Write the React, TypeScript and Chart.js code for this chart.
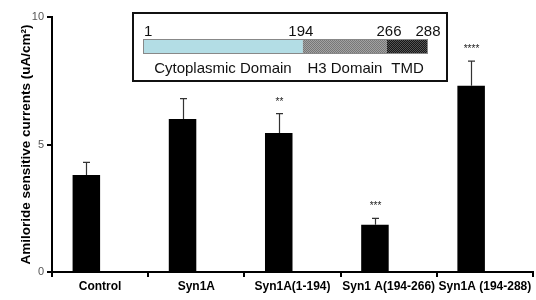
import React, { useEffect, useRef } from "react";
import { Chart, registerables } from "chart.js";

Chart.register(...registerables);

const categories = ["Control", "Syn1A", "Syn1A(1-194)", "Syn1 A(194-266)", "Syn1A (194-288)"];
const means = [3.8, 6.0, 5.45, 1.85, 7.3];
const errors = [0.5, 0.8, 0.76, 0.25, 0.97];
const significance = ["", "", "**", "***", "****"];
const yTicks = [0, 5, 10];
const domainBounds = ["1", "194", "266", "288"];
const domainNames = ["Cytoplasmic Domain", "H3 Domain", "TMD"];

const FONT = "'Liberation Sans', Arial, sans-serif";

function makePattern(ctx: CanvasRenderingContext2D, base: string, dot: string, step: number) {
  const c = document.createElement("canvas");
  c.width = step;
  c.height = step;
  const g = c.getContext("2d")!;
  g.fillStyle = base;
  g.fillRect(0, 0, step, step);
  g.fillStyle = dot;
  g.fillRect(0, 0, 1, 1);
  if (step >= 2) g.fillRect(Math.floor(step / 2), Math.floor(step / 2), 1, 1);
  return ctx.createPattern(c, "repeat")!;
}

const errorBarPlugin = {
  id: "errorBars",
  afterDatasetsDraw(chart: any) {
    const ctx = chart.ctx as CanvasRenderingContext2D;
    const meta = chart.getDatasetMeta(0);
    const y = chart.scales.y;
    ctx.save();
    meta.data.forEach((el: any, i: number) => {
      const top = y.getPixelForValue(means[i] + errors[i]);
      const x = Math.round(el.x) + 0.5;
      ctx.strokeStyle = "#333";
      ctx.lineWidth = 1.2;
      ctx.beginPath();
      ctx.moveTo(x, el.y);
      ctx.lineTo(x, top);
      ctx.moveTo(x - 3.5, top);
      ctx.lineTo(x + 3.5, top);
      ctx.stroke();
      if (significance[i]) {
        ctx.fillStyle = "#222";
        ctx.font = `10px ${FONT}`;
        ctx.textAlign = "center";
        ctx.textBaseline = "alphabetic";
        ctx.fillText(significance[i], x, top - 9);
      }
    });
    ctx.restore();
  },
};

const insetPlugin = {
  id: "inset",
  afterDraw(chart: any) {
    const ctx = chart.ctx as CanvasRenderingContext2D;
    const box = { l: 133, t: 13, r: 447, b: 81 };
    const bar = { l: 143, r: 428, t: 39, b: 54 };
    const fr = [0, 0.561, 0.856, 1];
    const xs = fr.map((f) => bar.l + f * (bar.r - bar.l));
    ctx.save();
    ctx.fillStyle = "#fff";
    ctx.fillRect(box.l, box.t, box.r - box.l, box.b - box.t);
    ctx.strokeStyle = "#111";
    ctx.lineWidth = 2;
    ctx.strokeRect(box.l, box.t, box.r - box.l, box.b - box.t);

    const fills: (string | CanvasPattern)[] = [
      "#b3dde5",
      makePattern(ctx, "#a2a2a2", "#777", 2),
      makePattern(ctx, "#161616", "#555", 2),
    ];
    for (let i = 0; i < 3; i++) {
      ctx.fillStyle = fills[i] as any;
      ctx.fillRect(xs[i], bar.t, xs[i + 1] - xs[i], bar.b - bar.t);
    }
    ctx.strokeStyle = "#888";
    ctx.lineWidth = 1;
    ctx.strokeRect(bar.l + 0.5, bar.t + 0.5, bar.r - bar.l - 1, bar.b - bar.t - 1);

    ctx.fillStyle = "#111";
    ctx.font = `15px ${FONT}`;
    ctx.textBaseline = "alphabetic";
    domainBounds.forEach((lab, i) => {
      if (i === 0) {
        ctx.textAlign = "left";
        ctx.fillText(lab, xs[0] + 1, 36);
      } else {
        ctx.textAlign = "center";
        ctx.fillText(lab, xs[i] - (i === 1 ? 2 : i === 2 ? -2 : 0), 36);
      }
    });
    ctx.textAlign = "center";
    domainNames.forEach((name, i) => {
      ctx.fillText(name, (xs[i] + xs[i + 1]) / 2, 73);
    });
    ctx.restore();
  },
};

export default function App() {
  const ref = useRef<HTMLCanvasElement>(null);
  useEffect(() => {
    const canvas = ref.current!;
    const chart = new Chart(canvas, {
      type: "bar",
      data: {
        labels: categories,
        datasets: [
          {
            data: means,
            backgroundColor: "#000",
            borderWidth: 0,
            categoryPercentage: 0.572,
            barPercentage: 1,
          },
          {
            data: categories.map(() => null),
            backgroundColor: "#000",
            categoryPercentage: 0.572,
            barPercentage: 1,
          },
        ],
      },
      options: {
        responsive: false,
        animation: false,
        layout: { padding: { left: 0, right: 3, top: 17, bottom: 0 } },
        plugins: { legend: { display: false }, tooltip: { enabled: false } },
        scales: {
          x: {
            grid: {
              display: true,
              drawOnChartArea: false,
              offset: true,
              tickLength: 5,
              color: "#000",
              lineWidth: 2,
            },
            border: { display: true, color: "#000", width: 2 },
            ticks: {
              color: "#000",
              font: { family: FONT, size: 12, weight: "bold" },
              padding: 2,
              maxRotation: 0,
              autoSkip: false,
            },
            afterFit: (s: any) => {
              s.height = 28;
            },
          },
          y: {
            min: 0,
            max: 10,
            afterBuildTicks: (s: any) => {
              s.ticks = yTicks.map((v) => ({ value: v }));
            },
            grid: {
              drawOnChartArea: false,
              tickLength: 5,
              color: "#000",
              lineWidth: 2,
            },
            border: { display: true, color: "#000", width: 2 },
            ticks: {
              color: "#555",
              font: { family: FONT, size: 11 },
              padding: 3,
            },
            title: {
              display: true,
              text: "Amiloride sensitive currents (uA/cm²)",
              color: "#000",
              font: { family: FONT, size: 13.5, weight: "bold" },
              padding: { top: 18, bottom: 0 },
            },
            afterFit: (s: any) => {
              s.width = 52;
            },
          },
        },
      } as any,
      plugins: [errorBarPlugin, insetPlugin],
    });
    return () => chart.destroy();
  }, []);
  return (
    <div style={{ position: "fixed", left: 0, top: 0, width: 536, height: 300, background: "#fff" }}>
      <canvas ref={ref} width={536} height={300} style={{ display: "block" }} />
    </div>
  );
}
